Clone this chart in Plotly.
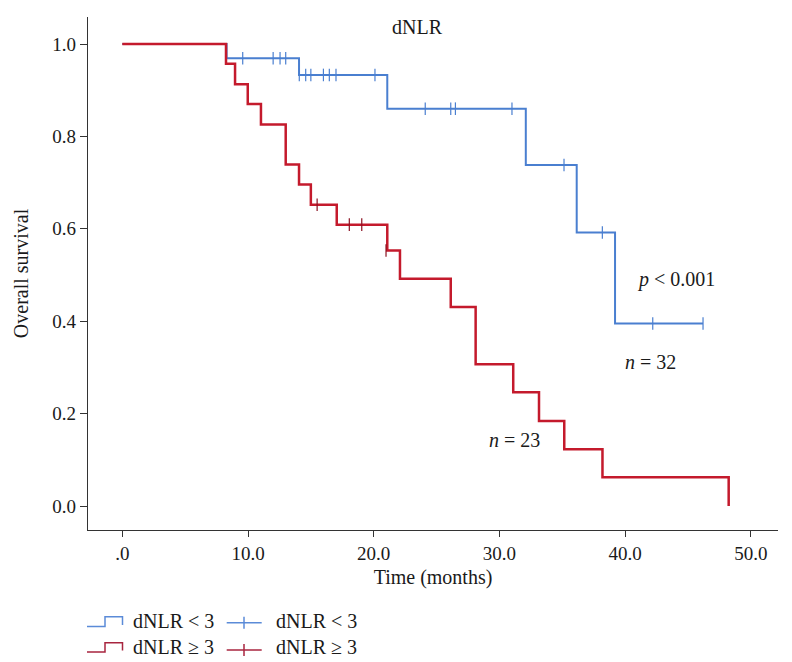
import plotly.graph_objects as go

# ---- data ----
blue_times = [0, 8.3, 14.06, 21.08, 32.1, 36.15, 39.2, 46.2]
blue_surv = [1.0, 0.969, 0.933, 0.86, 0.738, 0.592, 0.395, 0.395]
blue_cens_t = [9.58, 12.0, 12.55, 13.0, 14.08, 14.59, 15.0, 16.0, 16.47, 17.0, 20.1,
               24.1, 26.13, 26.5, 31.0, 35.14, 38.19, 42.2, 46.2]
blue_cens_s = [0.969, 0.969, 0.969, 0.969, 0.933, 0.933, 0.933, 0.933, 0.933, 0.933, 0.933,
               0.86, 0.86, 0.86, 0.86, 0.738, 0.592, 0.395, 0.395]

red_times = [0, 8.25, 8.97, 9.98, 11.03, 13.0, 14.06, 15.0, 17.06, 21.08, 22.09,
             26.13, 28.11, 31.1, 33.15, 35.16, 38.2, 48.24]
red_surv = [1.0, 0.957, 0.913, 0.870, 0.826, 0.739, 0.696, 0.652, 0.609, 0.553, 0.492,
            0.431, 0.307, 0.246, 0.184, 0.123, 0.062, 0.0]
red_cens_t = [15.5, 18.06, 19.05, 20.98]
red_cens_s = [0.652, 0.609, 0.609, 0.553]

x_ticks = [0, 10, 20, 30, 40, 50]
x_ticktext = [".0", "10.0", "20.0", "30.0", "40.0", "50.0"]
y_ticks = [0, 0.2, 0.4, 0.6, 0.8, 1.0]
y_ticktext = ["0.0", "0.2", "0.4", "0.6", "0.8", "1.0"]

legend_labels = ["dNLR < 3", "dNLR < 3", "dNLR ≥ 3", "dNLR ≥ 3"]

BLUE = "#4a7fd0"
BLUE_LEG = "#5b8bd8"
RED = "#c41a2c"
RED_LEG = "#a8253f"
FONT = "Liberation Serif"
TXT = "#1a1a1a"

# layout geometry (pixels)
W, H = 792, 662
L, R, T, B = 88, 778, 17, 530


def px(x):
    return (x - L) / (R - L)


def py(y):
    return (B - y) / (B - T)


fig = go.Figure()

fig.add_trace(go.Scatter(x=blue_times, y=blue_surv, mode="lines", line=dict(color=BLUE, width=2, shape="hv"),
                         showlegend=False, hoverinfo="skip"))
fig.add_trace(go.Scatter(x=blue_cens_t, y=blue_cens_s, mode="markers",
                         marker=dict(symbol="line-ns", size=9, line=dict(color=BLUE, width=1.2)),
                         showlegend=False, hoverinfo="skip"))
fig.add_trace(go.Scatter(x=red_times, y=red_surv, mode="lines", line=dict(color=RED, width=2.5, shape="hv"),
                         showlegend=False, hoverinfo="skip"))
fig.add_trace(go.Scatter(x=red_cens_t, y=red_cens_s, mode="markers",
                         marker=dict(symbol="line-ns", size=9, line=dict(color="#8a1020", width=1.2)),
                         showlegend=False, hoverinfo="skip"))

x0 = (L - 122.3) / 12.57
x1 = (R - 122.3) / 12.57
y0 = (506 - B) / 462
y1 = (506 - T) / 462

fig.update_xaxes(range=[x0, x1], tickvals=x_ticks, ticktext=x_ticktext, showgrid=False, zeroline=False,
                 showline=True, linecolor="#333", linewidth=1.3, ticks="outside", ticklen=6, tickcolor="#333",
                 tickfont=dict(family=FONT, size=19, color=TXT),
                 title=dict(text="Time (months)", font=dict(family=FONT, size=20, color=TXT), standoff=7))
fig.update_yaxes(range=[y0, y1], tickvals=y_ticks, ticktext=y_ticktext, showgrid=False, zeroline=False,
                 showline=True, linecolor="#333", linewidth=1.3, ticks="outside", ticklen=7, tickcolor="#333",
                 tickfont=dict(family=FONT, size=19, color=TXT),
                 title=dict(text="Overall survival", font=dict(family=FONT, size=20, color=TXT), standoff=18))

anns = [
    dict(x=23.52, y=1.037, text="dNLR"),
    dict(x=44.05, y=0.491, text="<i>p</i> < 0.001"),
    dict(x=42.06, y=0.312, text="<i>n</i> = 32"),
    dict(x=31.24, y=0.143, text="<i>n</i> = 23"),
]
for a in anns:
    fig.add_annotation(x=a["x"], y=a["y"], xref="x", yref="y", text=a["text"], showarrow=False,
                       font=dict(family=FONT, size=20, color=TXT))

# custom legend (step icon + censor icon), two rows
shapes = []
rows = [(626.5, 616.7, 622.7, BLUE_LEG, legend_labels[0], legend_labels[1]),
        (652.0, 642.7, 650.0, RED_LEG, legend_labels[2], legend_labels[3])]
for (yb, yt, yc, col, lab1, lab2) in rows:
    path = "M {} {} L {} {} L {} {} L {} {} L {} {}".format(
        px(87), py(yb), px(105), py(yb), px(105), py(yt), px(122.5), py(yt), px(122.5), py(yb - 1.5))
    shapes.append(dict(type="path", path=path, xref="paper", yref="paper", line=dict(color=col, width=1.5)))
    shapes.append(dict(type="line", x0=px(226.7), x1=px(261.7), y0=py(yc), y1=py(yc), xref="paper", yref="paper",
                       line=dict(color=col, width=1.5)))
    shapes.append(dict(type="line", x0=px(244), x1=px(244), y0=py(yc - 6), y1=py(yc + 6), xref="paper", yref="paper",
                       line=dict(color=col, width=1.5)))
    ty = (yb + yt) / 2 - 0.5
    fig.add_annotation(x=px(131), y=py(ty), xref="paper", yref="paper", text=lab1, showarrow=False,
                       xanchor="left", yanchor="middle", font=dict(family=FONT, size=20, color=TXT))
    fig.add_annotation(x=px(274), y=py(ty), xref="paper", yref="paper", text=lab2, showarrow=False,
                       xanchor="left", yanchor="middle", font=dict(family=FONT, size=20, color=TXT))

fig.update_layout(width=W, height=H, margin=dict(l=L, r=W - R, t=T, b=H - B), plot_bgcolor="white",
                  paper_bgcolor="white", shapes=shapes, showlegend=False)

fig.write_html("out.html")
